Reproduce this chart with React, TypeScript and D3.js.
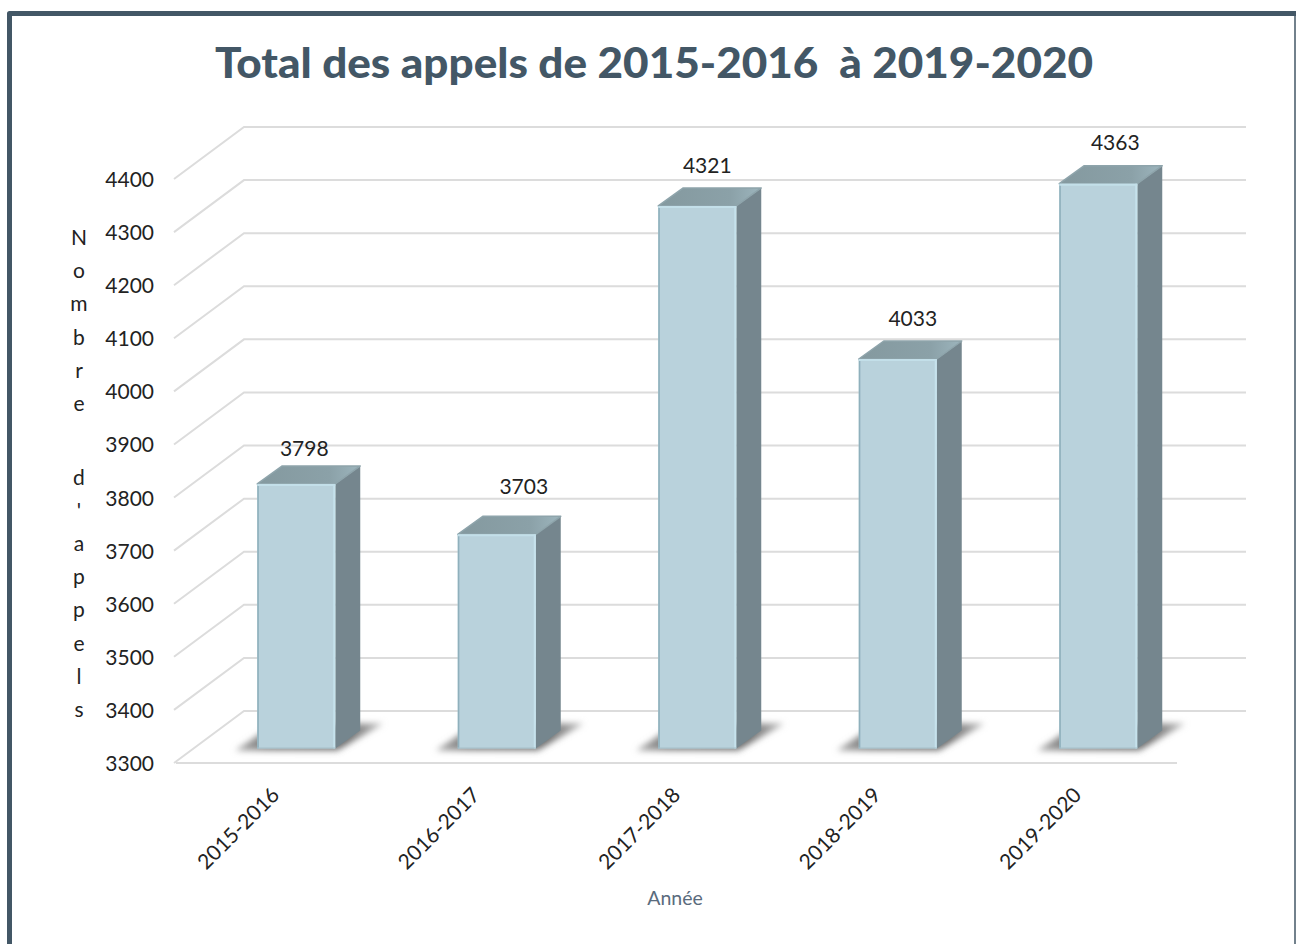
import React from "react";
import * as d3 from "d3";

const categories = ["2015-2016", "2016-2017", "2017-2018", "2018-2019", "2019-2020"];
const values = [3798, 3703, 4321, 4033, 4363];
const ticks = [3300, 3400, 3500, 3600, 3700, 3800, 3900, 4000, 4100, 4200, 4300, 4400];
const axisWord1 = ["N", "o", "m", "b", "r", "e"];
const axisWord2 = ["d", "'", "a", "p", "p", "e", "l", "s"];
const labelNudgeX = [8, 27, 10, 15, 17];
const labelNudgeY = [-35, -48, -40, -41, -41];

const W = 1296, H = 944;
const font = "Lato, 'Open Sans', sans-serif";
const FRONT_X0 = 176, FRONT_X1 = 1177;
const BACK_DX = 68, BACK_DY = -52;
const BAR_W = 78, BAR_DX = 25, BAR_DY = -18;

const yFront = d3.scaleLinear().domain([3300, 4400]).range([763, 179]);
const yBar = d3.scaleLinear().domain([3300, 4400]).range([748.5, 164]);
const xBand = d3.scaleBand<string>().domain(categories).range([197.5, 1200]).paddingInner(0).paddingOuter(0);
const frontX = (c: string) => xBand(c)! + xBand.bandwidth() / 2 - BAR_W / 2 - 1.5;

const poly = (p: number[][]) => p.map((q) => q.join(",")).join(" ");

export default function App() {
  const grid = "#dcdcdc";
  const gw = 2;
  return (
    <svg width={W} height={H} viewBox={`0 0 ${W} ${H}`} style={{ position: "absolute", left: 0, top: 0, background: "#fff" }}>
      <defs>
        <filter id="blur" x="-30%" y="-60%" width="160%" height="220%">
          <feGaussianBlur stdDeviation="3.4" />
        </filter>
        <linearGradient id="top" x1="0" x2="1" y1="0" y2="0">
          <stop offset="0" stopColor="#84999f" />
          <stop offset="0.7" stopColor="#8ba1a8" />
          <stop offset="1" stopColor="#9db5bd" />
        </linearGradient>
        <linearGradient id="shadow" x1="0" x2="1" y1="0" y2="0">
          <stop offset="0" stopColor="#a8a8a8" />
          <stop offset="0.22" stopColor="#808080" />
          <stop offset="0.75" stopColor="#707070" />
          <stop offset="1" stopColor="#bcbcbc" />
        </linearGradient>
      </defs>

      {/* frame */}
      <path d="M9.5,944 V13.5 H1296" fill="none" stroke="#435766" strokeWidth={5} strokeLinejoin="round" />
      <line x1={1295} x2={1295} y1={16} y2={944} stroke="#435766" strokeWidth={1.5} />

      <text x={654} y={78} textAnchor="middle" textLength={878} lengthAdjust="spacingAndGlyphs"
        fontFamily={font} fontWeight={900} fontSize={42} fill="#435766" style={{ whiteSpace: "pre" }}>
        {"Total des appels de 2015-2016  à 2019-2020"}
      </text>

      {/* walls */}
      {ticks.map((t) => {
        const y = yFront(t);
        return (
          <polyline key={t} fill="none" stroke={grid} strokeWidth={gw}
            points={poly([[FRONT_X0 - 2, y], [FRONT_X0 + BACK_DX, y + BACK_DY], [FRONT_X1 + BACK_DX + 1, y + BACK_DY]])} />
        );
      })}
      <line x1={FRONT_X0} x2={FRONT_X1} y1={yFront(3300)} y2={yFront(3300)} stroke={grid} strokeWidth={gw} />

      {/* y ticks */}
      {ticks.map((t) => (
        <text key={t} x={154} y={yFront(t) + 8} textAnchor="end" fontFamily={font} fontSize={21} fill="#222">{t}</text>
      ))}

      {/* vertical axis title */}
      {axisWord1.map((l, i) => (
        <text key={"a" + i} x={79} y={245 + i * 33.2} textAnchor="middle" fontFamily={font} fontSize={21} fill="#222">{l}</text>
      ))}
      {axisWord2.map((l, i) => (
        <text key={"b" + i} x={79} y={485 + i * 33.1} textAnchor="middle" fontFamily={font} fontSize={21} fill="#222">{l}</text>
      ))}

      {/* bars */}
      {categories.map((c, i) => {
        const x = frontX(c);
        const base = yBar(3300), top = yBar(values[i]);
        const x1 = x + BAR_W;
        return (
          <g key={c}>
            <polygon filter="url(#blur)" fill="url(#shadow)"
              points={poly([[x - 22, base + 2], [x1 + 2, base + 2], [x1 + 48, base - 25], [x1 + 18, base - 25], [x + 5, base - 16]])} />
            <polygon fill="#75868e" points={poly([[x1, top], [x1 + BAR_DX, top + BAR_DY], [x1 + BAR_DX, base + BAR_DY], [x1, base]])} />
            <polygon fill="url(#top)" stroke="#8ea4ab" strokeWidth={1.5} strokeLinejoin="round"
              points={poly([[x, top], [x + BAR_DX, top + BAR_DY], [x1 + BAR_DX, top + BAR_DY], [x1, top]])} />
            <rect x={x} y={top} width={BAR_W} height={base - top} fill="#b9d2dc" />
            <line x1={x + 0.8} x2={x + 0.8} y1={top} y2={base} stroke="#8fb0bc" strokeWidth={1.6} />
            <line x1={x1 - 1} x2={x1 - 1} y1={top} y2={base} stroke="#c6e2ec" strokeWidth={2} />
            <line x1={x} x2={x1} y1={top + 1} y2={top + 1} stroke="#c3dfe9" strokeWidth={2} />
            <line x1={x} x2={x1} y1={base - 0.5} y2={base - 0.5} stroke="#a5c0ca" strokeWidth={1} />
            <text x={x + BAR_W / 2 + labelNudgeX[i]} y={top + labelNudgeY[i] + 7.5} textAnchor="middle"
              fontFamily={font} fontSize={21} fill="#222">{values[i]}</text>
            <text transform={`translate(${x + 17},${790}) rotate(-45)`} textAnchor="end"
              fontFamily={font} fontSize={21} fill="#222" dy={9}>{c}</text>
          </g>
        );
      })}

      <text x={675} y={905} textAnchor="middle" fontFamily={font} fontSize={19.5} fill="#5a6b7d">Année</text>
    </svg>
  );
}
